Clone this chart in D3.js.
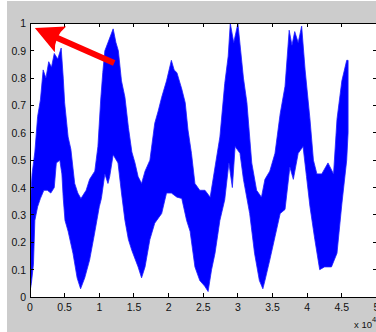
<!DOCTYPE html>
<html><head><meta charset="utf-8">
<script src="https://cdn.jsdelivr.net/npm/d3@7"></script>
<style>body{margin:0;background:#fff}svg{display:block}</style>
</head><body>
<script>
// x in units of 1e4
const upperX = [0.00,0.03,0.07,0.11,0.15,0.19,0.23,0.27,0.31,0.35,0.40,0.45,0.48,0.50,0.55,0.59,0.645,0.69,0.735,0.81,0.86,0.935,0.98,1.02,1.05,1.08,1.125,1.20,1.24,1.275,1.32,1.37,1.42,1.47,1.515,1.56,1.61,1.66,1.73,1.80,1.85,1.90,1.97,2.04,2.08,2.12,2.19,2.24,2.28,2.33,2.38,2.45,2.525,2.60,2.67,2.74,2.81,2.86,2.89,2.94,3.00,3.04,3.08,3.13,3.20,3.27,3.34,3.39,3.46,3.535,3.61,3.68,3.74,3.78,3.82,3.87,3.92,3.97,4.04,4.09,4.14,4.21,4.30,4.38,4.43,4.50,4.57,4.59];
const upperY = [0.33,0.45,0.53,0.66,0.72,0.83,0.80,0.86,0.84,0.89,0.87,0.91,0.80,0.71,0.585,0.54,0.415,0.38,0.36,0.39,0.43,0.46,0.55,0.72,0.82,0.90,0.93,0.98,0.93,0.90,0.79,0.73,0.62,0.53,0.49,0.44,0.415,0.46,0.50,0.635,0.68,0.73,0.79,0.865,0.83,0.82,0.76,0.71,0.61,0.525,0.415,0.39,0.39,0.365,0.475,0.585,0.78,0.88,1.0,0.93,1.0,0.90,0.80,0.71,0.49,0.39,0.365,0.43,0.46,0.525,0.67,0.77,0.975,0.92,0.97,0.93,0.99,0.83,0.65,0.50,0.45,0.45,0.49,0.45,0.65,0.79,0.865,0.865];
const lowerX = [0.00,0.02,0.05,0.07,0.11,0.15,0.20,0.25,0.30,0.35,0.38,0.43,0.46,0.48,0.505,0.55,0.62,0.68,0.73,0.79,0.86,0.93,1.00,1.03,1.08,1.125,1.15,1.20,1.27,1.32,1.37,1.42,1.47,1.56,1.61,1.66,1.73,1.80,1.90,1.97,2.04,2.12,2.19,2.26,2.31,2.38,2.45,2.52,2.57,2.62,2.67,2.74,2.81,2.87,2.92,2.96,3.03,3.08,3.17,3.24,3.31,3.36,3.39,3.46,3.535,3.61,3.68,3.75,3.80,3.87,3.94,3.99,4.04,4.11,4.18,4.25,4.35,4.43,4.50,4.57,4.59];
const lowerY = [0.02,0.05,0.12,0.28,0.33,0.36,0.39,0.39,0.38,0.40,0.49,0.50,0.45,0.36,0.28,0.24,0.16,0.07,0.03,0.07,0.135,0.23,0.33,0.36,0.45,0.415,0.44,0.52,0.49,0.38,0.28,0.21,0.17,0.11,0.07,0.11,0.21,0.27,0.305,0.38,0.38,0.365,0.36,0.28,0.24,0.11,0.06,0.04,0.02,0.10,0.16,0.28,0.355,0.49,0.40,0.55,0.525,0.43,0.305,0.16,0.06,0.03,0.06,0.135,0.22,0.305,0.32,0.475,0.43,0.525,0.55,0.44,0.33,0.21,0.10,0.11,0.11,0.16,0.34,0.50,0.60];
const xTicks = [0,0.5,1,1.5,2,2.5,3,3.5,4,4.5,5];
const xTickLabels = ["0","0.5","1","1.5","2","2.5","3","3.5","4","4.5","5"];
const yTicks = [0,0.1,0.2,0.3,0.4,0.5,0.6,0.7,0.8,0.9,1];
const yTickLabels = ["0","0.1","0.2","0.3","0.4","0.5","0.6","0.7","0.8","0.9","1"];
const arrowTip = [0.07, 0.983];
const arrowTail = [1.215, 0.855];

const W = 376, H = 332;
const svg = d3.select("body").append("svg").attr("width", W).attr("height", H);
svg.append("rect").attr("width", W).attr("height", H).attr("fill", "#fff");
svg.append("rect").attr("x", 7).attr("y", 1).attr("width", W - 7).attr("height", H - 1).attr("fill", "#cccccc");

const x = d3.scaleLinear().domain([0, 5]).range([30, 376.5]);
const y = d3.scaleLinear().domain([0, 1]).range([297, 23.4]);

svg.append("rect").attr("x", x(0)).attr("y", y(1)).attr("width", x(5) - x(0)).attr("height", y(0) - y(1)).attr("fill", "#fff");

svg.append("clipPath").attr("id", "clip").append("rect")
  .attr("x", x(0)).attr("y", y(1)).attr("width", x(5) - x(0)).attr("height", y(0) - y(1));

const upper = upperX.map((v, i) => [v, upperY[i]]);
const lower = lowerX.map((v, i) => [v, lowerY[i]]);
const line = d3.line().x(d => x(d[0])).y(d => y(d[1]));
const pathD = line(upper.concat(lower.slice().reverse())) + "Z";
svg.append("path").attr("d", pathD).attr("fill", "#0000ff").attr("stroke", "#2020ff").attr("stroke-width", 0.8)
  .attr("clip-path", "url(#clip)");

const g = svg.append("g").attr("stroke", "#000").attr("stroke-width", 1).attr("fill", "none").attr("shape-rendering", "crispEdges");
g.append("line").attr("x1", x(0)).attr("x2", x(0)).attr("y1", y(0)).attr("y2", y(1));
g.append("line").attr("x1", x(0)).attr("x2", W).attr("y1", y(0)).attr("y2", y(0));
g.append("line").attr("x1", x(0)).attr("x2", W).attr("y1", y(1)).attr("y2", y(1));
g.append("line").attr("x1", x(5)).attr("x2", x(5)).attr("y1", y(0)).attr("y2", y(1));
const tl = 4;
xTicks.forEach(t => {
  g.append("line").attr("x1", x(t)).attr("x2", x(t)).attr("y1", y(0)).attr("y2", y(0) - tl);
  g.append("line").attr("x1", x(t)).attr("x2", x(t)).attr("y1", y(1)).attr("y2", y(1) + tl);
});
yTicks.forEach(t => {
  g.append("line").attr("x1", x(0)).attr("x2", x(0) + tl).attr("y1", y(t)).attr("y2", y(t));
  g.append("line").attr("x1", x(5)).attr("x2", x(5) - tl).attr("y1", y(t)).attr("y2", y(t));
});

const font = "'Liberation Sans', Arial, sans-serif";
svg.append("g").selectAll("text").data(xTicks).join("text")
  .attr("x", d => x(d)).attr("y", 310.5).attr("text-anchor", "middle")
  .attr("font-family", font).attr("font-size", 10.5).attr("fill", "#111")
  .text((d, i) => xTickLabels[i]);
svg.append("g").selectAll("text").data(yTicks).join("text")
  .attr("x", 26).attr("y", d => y(d) + 4).attr("text-anchor", "end")
  .attr("font-family", font).attr("font-size", 10.5).attr("fill", "#111")
  .text((d, i) => yTickLabels[i]);
const ex = svg.append("text").attr("x", 354).attr("y", 327.5).attr("font-family", font).attr("font-size", 9.5).attr("fill", "#111");
ex.append("tspan").text("x 10");
ex.append("tspan").attr("dy", -6).attr("font-size", 7.5).text("4");

const tip = [x(arrowTip[0]), y(arrowTip[1])];
const tail = [x(arrowTail[0]), y(arrowTail[1])];
const dx = tip[0] - tail[0], dy = tip[1] - tail[1];
const L = Math.hypot(dx, dy);
const u = [dx / L, dy / L], n = [-u[1], u[0]];
const hl = 28, hw = 14;
const base = [tip[0] - hl * u[0], tip[1] - hl * u[1]];
const notch = [tip[0] - 21 * u[0], tip[1] - 21 * u[1]];
svg.append("line").attr("x1", tail[0]).attr("y1", tail[1]).attr("x2", notch[0]).attr("y2", notch[1])
  .attr("stroke", "#ff0000").attr("stroke-width", 6);
svg.append("path").attr("fill", "#ff0000").attr("d",
  `M${tip[0]},${tip[1]} L${base[0] + hw * n[0]},${base[1] + hw * n[1]} Q${notch[0]},${notch[1]} ${base[0] - hw * n[0]},${base[1] - hw * n[1]} Z`);
</script>
</body></html>
